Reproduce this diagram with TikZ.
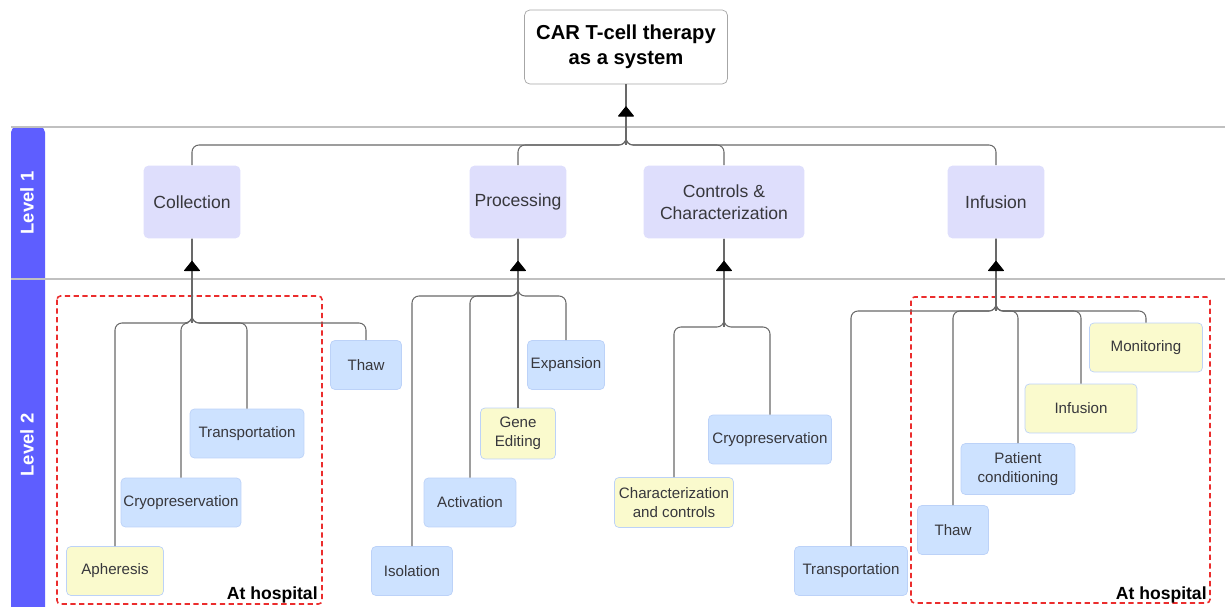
\documentclass[tikz,border=0pt]{standalone}
\usepackage{fontspec}
\setmainfont{Liberation Sans}
\usepackage{tikz}
\usetikzlibrary{positioning, arrows.meta, decorations.markings}
\definecolor{lanebar}{RGB}{94,94,255}
\definecolor{laneline}{RGB}{192,192,192}
\definecolor{stagefill}{RGB}{222,222,252}
\definecolor{stepblue}{RGB}{205,226,255}
\definecolor{stepedge}{RGB}{188,210,248}
\definecolor{stepyellow}{RGB}{250,250,205}
\definecolor{linkgrey}{RGB}{105,105,105}
\definecolor{zonered}{RGB}{235,45,45}
\definecolor{labelgrey}{RGB}{55,55,60}

\begin{document}
\begin{tikzpicture}[
        x=0.02cm, y=-0.02cm,
        system/.style={rectangle, draw=gray!70, fill=white, rounded corners=3pt, minimum width=4.06cm, minimum height=1.48cm, align=center, font=\fontsize{11.5}{14.5}\selectfont\bfseries},
        stage/.style={rectangle, fill=stagefill, rounded corners=3pt, minimum width=1.94cm, minimum height=1.46cm, inner sep=0pt, align=center, text=labelgrey, font=\fontsize{10}{12.5}\selectfont},
        task/.style={rectangle, fill=stepblue, draw=stepedge, rounded corners=2.5pt, minimum height=0.98cm, inner sep=0pt, align=center, text=labelgrey, font=\fontsize{8.6}{10.8}\selectfont},
        clinic/.style={task, fill=stepyellow},
        link/.style={draw=linkgrey, line width=0.6pt, rounded corners=4pt},
        uptip/.style={postaction={decorate}, decoration={markings, mark=at position 0.44cm with {\arrowreversed{Triangle[length=6pt, width=9.5pt, round, color=black]}}}},
        lanerule/.style={draw=laneline, line width=0.9pt},
        lanetag/.style={rotate=90, text=white, font=\fontsize{10.5}{12}\selectfont\bfseries},
        zone/.style={draw=zonered, line width=0.9pt, dash pattern=on 3pt off 2pt, rounded corners=2pt},
        sitetag/.style={inner sep=0pt, font=\fontsize{10}{12}\selectfont\bfseries}
    ]
        \useasboundingbox (0,0) rectangle (1225,607);

        % Swimlanes
        \fill[lanebar, rounded corners=3pt] (11,660) |- (45,127) -- (45,660) -- cycle;
        \draw[lanerule] (11,127) -- (1225,127);
        \draw[lanerule] (11,279) -- (1225,279);
        \node[lanetag] (lvA) at (27,203) {Level 1};
        \node[lanetag] (lvB) at (27,445) {Level 2};

        % At hospital zones
        \draw[zone] (57,296) rectangle (322,604);
        \draw[zone] (911,297) rectangle (1210,603);
        \node[sitetag, anchor=base east] (siteA) at (318,600) {At hospital};
        \node[sitetag, anchor=base east] (siteB) at (1207,600) {At hospital};

        % Nodes
        \node[system] (car) at (626,47) {CAR T-cell therapy\\as a system};

        \node[stage] (coll) at (192,202) {Collection};
        \node[stage] (proc) at (518,202) {Processing};
        \node[stage, minimum width=3.22cm] (ctrl) at (724,202) {Controls \&\\Characterization};
        \node[stage] (infu) at (996,202) {Infusion};

        \node[clinic, minimum width=1.94cm] (apher) at (115,571) {Apheresis};
        \node[task, minimum width=2.40cm] (cryoA) at (181,502.5) {Cryopreservation};
        \node[task, minimum width=2.28cm] (transA) at (247,433.5) {Transportation};
        \node[task, minimum width=1.42cm] (thawA) at (366,365) {Thaw};

        \node[task, minimum width=1.62cm] (isol) at (412,571) {Isolation};
        \node[task, minimum width=1.84cm] (activ) at (470,502.5) {Activation};
        \node[clinic, minimum width=1.50cm, minimum height=1.02cm] (gene) at (518,433.5) {Gene\\Editing};
        \node[task, minimum width=1.54cm] (expan) at (566,365) {Expansion};

        \node[clinic, minimum width=2.38cm, minimum height=1.0cm] (charc) at (674,502.5) {Characterization\\and controls};
        \node[task, minimum width=2.46cm] (cryoB) at (770,439.5) {Cryopreservation};

        \node[task, minimum width=2.26cm] (transB) at (851,571) {Transportation};
        \node[task, minimum width=1.42cm] (thawB) at (953,530) {Thaw};
        \node[task, minimum width=2.28cm, minimum height=1.02cm] (patient) at (1018,469) {Patient\\conditioning};
        \node[clinic, minimum width=2.24cm] (infB) at (1081,408.5) {Infusion};
        \node[clinic, minimum width=2.26cm] (monit) at (1146,347.5) {Monitoring};

        % Branch points
        \coordinate (j0) at (car.south |- 0,145);
        \coordinate (j1) at (coll.south |- 0,323);
        \coordinate (j2) at (proc.south |- 0,296);
        \coordinate (j3) at (ctrl.south |- 0,327);
        \coordinate (j4) at (infu.south |- 0,311);

        % Connections
        \foreach \s in {coll,proc,ctrl,infu}
            \draw[link] (car.south) -- (j0) -| (\s.north);
        \foreach \t in {apher,cryoA,transA,thawA}
            \draw[link] (coll.south) -- (j1) -| (\t.north);
        \foreach \t in {isol,activ,expan}
            \draw[link] (proc.south) -- (j2) -| (\t.north);
        \draw[link] (proc.south) -- (gene.north);
        \foreach \t in {charc,cryoB}
            \draw[link] (ctrl.south) -- (j3) -| (\t.north);
        \foreach \t in {transB,thawB,patient,infB,monit}
            \draw[link] (infu.south) -- (j4) -| (\t.north);

        % Tips
        \draw[link, uptip] (car.south) -- (j0);
        \draw[link, uptip] (coll.south) -- (j1);
        \draw[link, uptip] (proc.south) -- (j2);
        \draw[link, uptip] (ctrl.south) -- (j3);
        \draw[link, uptip] (infu.south) -- (j4);

    \end{tikzpicture}
\end{document}
